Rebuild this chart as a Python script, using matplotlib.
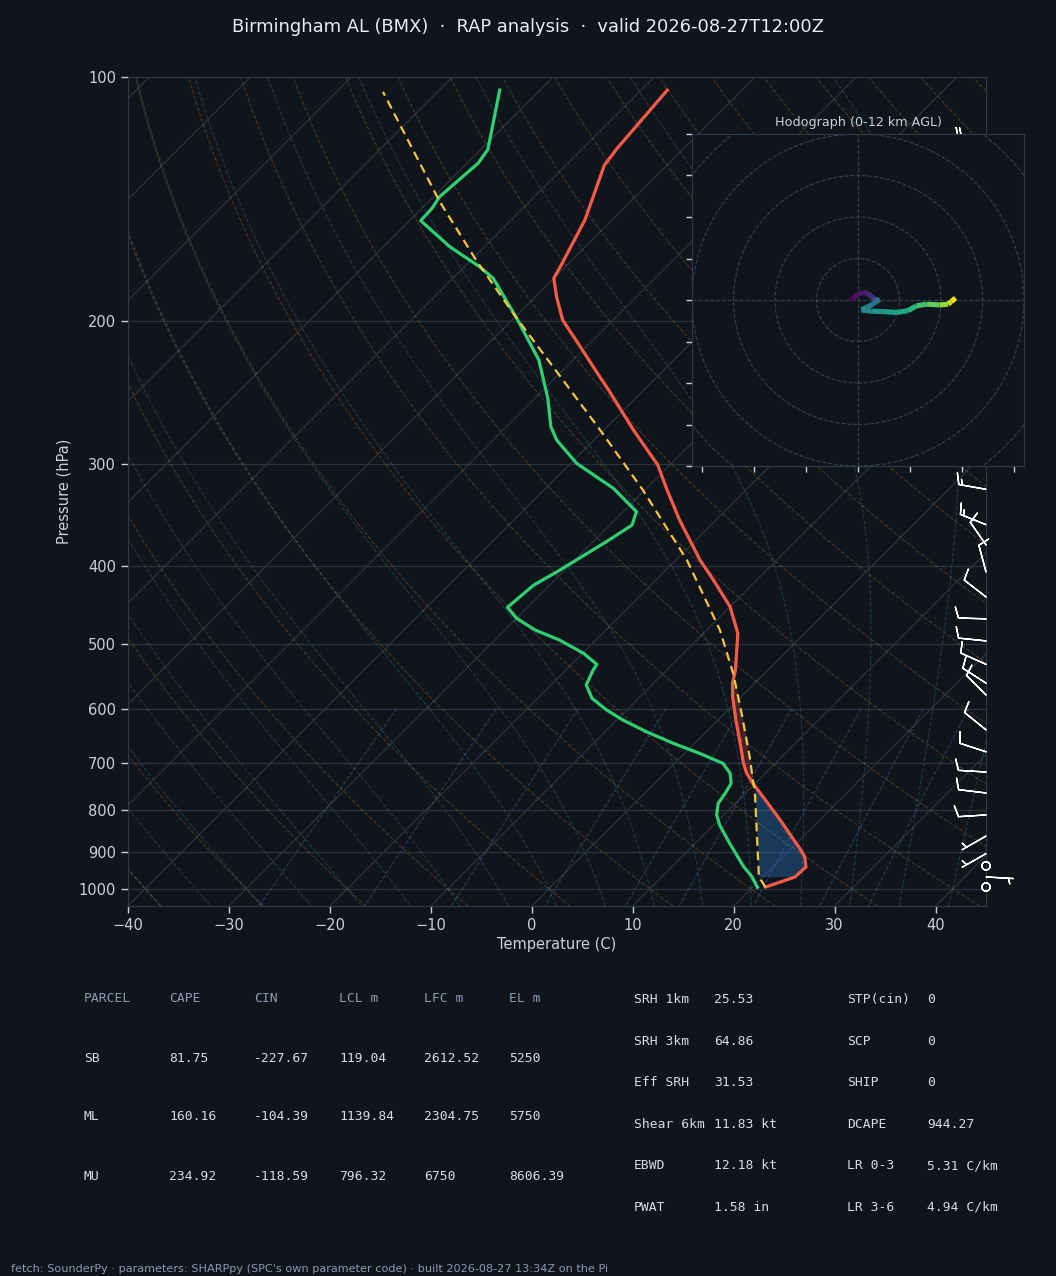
import numpy as np
import matplotlib
matplotlib.use('Agg')
import matplotlib.pyplot as plt
import matplotlib.transforms as mtransforms
from matplotlib.collections import LineCollection
from matplotlib.patches import Circle
from matplotlib.ticker import FixedLocator, NullLocator, FuncFormatter, NullFormatter

BG = '#10151c'
SPINE = '#2e3a48'
TXT = '#c9d1d9'
MUTED = '#8b9bb0'

# --- sounding ---
temp_p = [994.9, 967.1, 940.0, 913.9, 890.9, 865.9, 822.8, 781.9, 740.8, 720.0, 699.9,
          661.4, 619.6, 580.4, 557.8, 537.6, 484.5, 449.3, 416.5, 393.6, 351.3, 322.7,
          300.6, 272.1, 243.0, 229.6, 214.9, 199.2, 186.5, 177.0, 171.3, 150.0, 128.4,
          122.4, 103.8]
temp_t = [21.3, 23.2, 23.3, 22.2, 20.8, 19.1, 16.1, 13.0, 9.7, 8.1, 6.8,
          4.5, 1.8, -0.8, -2.2, -3.2, -6.6, -10.0, -14.3, -17.6, -23.6, -27.8,
          -31.2, -37.1, -43.5, -46.8, -50.6, -55.0, -57.9, -60.0, -60.5, -62.7, -66.2,
          -66.6, -67.4]

dewp_p = [995.7, 966.2, 939.2, 879.1, 834.6, 811.1, 784.8, 762.7, 741.4, 720.6, 700.5,
          681.0, 661.9, 640.5, 619.6, 602.2, 582.6, 561.0, 537.6, 529.0, 512.8, 493.8,
          480.0, 464.4, 450.1, 422.5, 406.8, 373.6, 356.4, 343.1, 321.1, 299.2, 280.0,
          269.6, 248.8, 223.1, 198.3, 177.0, 171.3, 161.9, 150.3, 145.1, 140.4, 127.7,
          122.8, 103.8]
dewp_t = [20.5, 18.9, 17.1, 13.4, 10.6, 9.3, 8.3, 8.0, 7.6, 6.5, 4.8,
          1.5, -2.1, -5.9, -9.4, -12.0, -14.6, -16.5, -17.3, -17.5, -19.9, -23.6,
          -27.0, -30.0, -32.0, -31.6, -30.6, -28.7, -27.8, -28.7, -33.3, -39.4, -43.7,
          -45.6, -48.7, -53.4, -59.7, -66.0, -68.5, -73.4, -78.9, -79.0, -79.4, -78.9,
          -79.3, -84.0]

parcel_p = [995.7, 966.2, 854.5, 755.6, 741.4, 687.6, 607.9, 542.7, 480.0, 393.6,
            322.7, 272.1, 235.1, 198.3, 168.1, 142.4, 115.7, 104.3]
parcel_t = [21.3, 19.6, 15.1, 10.6, 9.8, 6.8, 1.7, -3.1, -8.7, -18.9,
            -30.2, -40.4, -49.3, -59.7, -69.5, -78.9, -89.9, -95.4]

# wind barbs (kt)
barb_p = [120, 322, 356, 377, 407, 437, 465, 495, 529, 558, 577, 637, 678, 718, 762,
          811, 861, 905, 937, 967, 995]
barb_u = [22.0, 14.8, 13.9, 5.7, 2.6, 6.3, 10.0, 9.9, 11.0, 8.4, 7.1, 7.8, 9.5, 10.0, 9.9,
          8.0, 4.0, 3.5, 0.5, -3.5, -1.0]
barb_v = [-2.0, -2.6, -5.6, -8.2, -9.7, -4.9, -0.3, -1.0, -4.9, -5.4, -7.1, -6.3, -3.1,
          -0.6, -1.2, 0.5, 2.3, 2.0, 0.8, 0.2, 0.5]

# hodograph trace (kt) and height (km AGL)
hodo_u = [-2.0, -1.2, 0.0, 1.2, 2.4, 3.5, 4.4, 5.2, 3.6, 2.0, 0.8, 3.2, 6.0, 9.2, 12.0,
          14.1, 16.5, 19.7, 21.7, 22.5, 23.5]
hodo_v = [0.0, 0.4, 1.4, 1.8, 1.6, 0.6, -0.2, 0.2, -1.0, -1.8, -2.4, -2.7, -2.8, -3.0,
          -2.6, -1.4, -1.0, -1.2, -1.0, -0.4, 0.5]
hodo_z = [0.0, 0.3, 0.6, 0.9, 1.2, 1.5, 3.0, 4.2, 4.8, 5.2, 5.6, 6.0, 6.4, 6.9, 7.4,
          8.0, 8.7, 9.6, 10.5, 11.2, 12.0]

# parameter tables
parcel_header = ['PARCEL', 'CAPE', 'CIN', 'LCL m', 'LFC m', 'EL m']
parcel_names = ['SB', 'ML', 'MU']
cape = [81.75, 160.16, 234.92]
cin = [-227.67, -104.39, -118.59]
lcl = [119.04, 1139.84, 796.32]
lfc = [2612.52, 2304.75, 6750]
el = [5250, 5750, 8606.39]

kin_labels = ['SRH 1km', 'SRH 3km', 'Eff SRH', 'Shear 6km', 'EBWD', 'PWAT']
kin_values = [25.53, 64.86, 31.53, 11.83, 12.18, 1.58]
kin_units = ['', '', '', ' kt', ' kt', ' in']
comp_labels = ['STP(cin)', 'SCP', 'SHIP', 'DCAPE', 'LR 0-3', 'LR 3-6']
comp_values = [0, 0, 0, 944.27, 5.31, 4.94]
comp_units = ['', '', '', '', ' C/km', ' C/km']

title = 'Birmingham AL (BMX)  \u00b7  RAP analysis  \u00b7  valid 2026-08-27T12:00Z'
footer = ("fetch: SounderPy \u00b7 parameters: SHARPpy (SPC's own parameter code) "
          "\u00b7 built 2026-08-27 13:34Z on the Pi")

# --- simple thermodynamics for the background lines ---
RD, CPD, LV, EPS = 287.04, 1005.7, 2.501e6, 0.622


def sat_mix(p, tk):
    es = 6.112 * np.exp(17.67 * (tk - 273.15) / (tk - 29.65))
    return EPS * es / (p - es)


def moist_dtdp(p, tk):
    rs = sat_mix(p, tk)
    return (RD * tk + LV * rs) / (CPD + LV**2 * rs * EPS / (RD * tk**2)) / p


def integrate_moist(t0, pgrid):
    tk = np.asarray(t0, float) + 273.15
    out = [tk.copy()]
    for p1, p2 in zip(pgrid[:-1], pgrid[1:]):
        h = p2 - p1
        k1 = moist_dtdp(p1, tk)
        k2 = moist_dtdp(p1 + h / 2, tk + h / 2 * k1)
        k3 = moist_dtdp(p1 + h / 2, tk + h / 2 * k2)
        k4 = moist_dtdp(p2, tk + h * k3)
        tk = tk + h / 6 * (k1 + 2 * k2 + 2 * k3 + k4)
        out.append(tk.copy())
    return np.array(out) - 273.15


fig = plt.figure(figsize=(10.56, 12.76), dpi=100, facecolor=BG)
ax = fig.add_axes([128 / 1056, 1 - 906 / 1276, 858 / 1056, 829 / 1276], facecolor=BG)
ax.set_yscale('log')
ax.set_xlim(-40, 45)
ax.set_ylim(1050, 100)
ax.set_autoscale_on(False)

# skew x by 45 degrees about the bottom edge of the axes (display pixels)
y0 = ax.bbox.y0
skew = mtransforms.Affine2D().translate(0, -y0).skew_deg(45, 0).translate(0, y0)
sk = ax.transData + skew

# horizontal pressure grid
for p in range(100, 1001, 100):
    ax.axhline(p, color='#2a3340', lw=0.9, zorder=1)

# isotherms
for t in range(-130, 50, 10):
    ax.plot([t, t], [1050, 100], color='#2f3640', lw=0.8, transform=sk, zorder=1)

pfull = np.linspace(1050, 100, 120)
# dry adiabats
for t0 in range(-40, 201, 10):
    tt = (t0 + 273.15) * (pfull / 1000.0) ** 0.2857 - 273.15
    ax.plot(tt, pfull, color='#c8823c', alpha=0.3, lw=0.8, ls='--', transform=sk, zorder=1)

# moist adiabats
p_up = np.linspace(1000, 100, 361)
p_dn = np.linspace(1000, 1050, 21)
t0s = np.arange(-40, 46, 5)
m_up = integrate_moist(t0s, p_up)
m_dn = integrate_moist(t0s, p_dn)
pm = np.concatenate([p_dn[::-1], p_up[1:]])
for i in range(len(t0s)):
    tm = np.concatenate([m_dn[::-1, i], m_up[1:, i]])
    ax.plot(tm, pm, color='#4a9aa8', alpha=0.28, lw=0.8, ls='--', transform=sk, zorder=1)

# mixing ratio lines
pmix = np.linspace(600, 1050, 30)
for w in [0.0004, 0.001, 0.002, 0.004, 0.007, 0.01, 0.016, 0.024, 0.032]:
    e = pmix * w / (EPS + w)
    le = np.log(e / 6.112)
    td = 243.5 * le / (17.67 - le)
    ax.plot(td, pmix, color='#5b8fd6', alpha=0.32, lw=0.8, ls='--', transform=sk, zorder=1)

# shading between parcel and environment
pg = np.geomspace(966.2, 104.3, 600)
lp = np.log(pg)
t_env = np.interp(lp, np.log(temp_p[::-1]), temp_t[::-1])
t_par = np.interp(lp, np.log(parcel_p[::-1]), parcel_t[::-1])
ax.fill_betweenx(pg, t_par, t_env, where=(t_env >= t_par) & (pg > 700), interpolate=True,
                 color='#2f7fd0', alpha=0.35, lw=0, transform=sk, zorder=2)
ax.fill_betweenx(pg, t_par, t_env, where=(t_par >= t_env) & (pg > 450), interpolate=True,
                 color='#d94a38', alpha=0.25, lw=0, transform=sk, zorder=2)

# profiles
ax.plot(temp_t, temp_p, color='#f85a48', lw=2.3, transform=sk, zorder=4)
ax.plot(dewp_t, dewp_p, color='#2fcf74', lw=2.3, transform=sk, zorder=4)
ax.plot(parcel_t, parcel_p, color='#f4c542', lw=1.6, ls=(0, (4, 2.5)), transform=sk, zorder=5)

# wind barbs along the right edge
ax.barbs(np.ones(len(barb_p)), barb_p, barb_u, barb_v, transform=ax.get_yaxis_transform(),
         clip_on=False, length=6.3, color='white', lw=1.0, zorder=6)

ax.yaxis.set_major_locator(FixedLocator(list(range(100, 1001, 100))))
ax.yaxis.set_minor_locator(NullLocator())
ax.yaxis.set_major_formatter(FuncFormatter(lambda v, _: f'{v:.0f}'))
ax.yaxis.set_minor_formatter(NullFormatter())
ax.xaxis.set_major_locator(FixedLocator(list(range(-40, 41, 10))))
ax.tick_params(colors=TXT, labelsize=10.5, length=5, width=1)
ax.set_xlabel('Temperature (C)', color=TXT, fontsize=10.5, labelpad=3)
ax.set_ylabel('Pressure (hPa)', color=TXT, fontsize=10.5, labelpad=5)
for s in ax.spines.values():
    s.set_color(SPINE)

# --- hodograph inset ---
hx = fig.add_axes([692 / 1056, 1 - 466 / 1276, 332 / 1056, 332 / 1276], facecolor=BG)
hx.set_xlim(-40, 40)
hx.set_ylim(-40, 40)
for r in range(10, 60, 10):
    hx.add_patch(Circle((0, 0), r, fill=False, ls='--', lw=0.8, color='#34404e'))
hx.axhline(0, color='#34404e', ls='--', lw=0.8)
hx.axvline(0, color='#34404e', ls='--', lw=0.8)
pts = np.column_stack([hodo_u, hodo_v]).reshape(-1, 1, 2)
segs = np.concatenate([pts[:-1], pts[1:]], axis=1)
lc = LineCollection(segs, cmap='viridis', norm=plt.Normalize(0, 12), lw=3.7,
                    capstyle='butt')
lc.set_array(np.array(hodo_z[:-1]) * 0.5 + np.array(hodo_z[1:]) * 0.5)
hx.add_collection(lc)
hx.set_xticks(np.arange(-37.5, 38, 12.5))
hx.set_yticks(np.arange(-40, 41, 10))
hx.tick_params(colors=TXT, length=4, width=1, labelbottom=False, labelleft=False)
for s in hx.spines.values():
    s.set_color(SPINE)
hx.set_title('Hodograph (0-12 km AGL)', color=TXT, fontsize=9.2, pad=6)

# --- titles ---
fig.text(0.5, 1 - 27 / 1276, title, ha='center', va='center', color='#e6edf3', fontsize=12.9)
fig.text(11 / 1056, 1 - 1269 / 1276, footer, ha='left', va='center', color=MUTED, fontsize=8.15)

# --- parcel table ---
mono = 'DejaVu Sans Mono'
col_x = [84 + 85 * i for i in range(6)]
for j, h in enumerate(parcel_header):
    fig.text(col_x[j] / 1056, 1 - 999 / 1276, h, family=mono, fontsize=9.4, color=MUTED,
             ha='left', va='center')
for i, name in enumerate(parcel_names):
    y = 1 - (1058 + 59 * i) / 1276
    row = [name] + [f'{v:g}' for v in (cape[i], cin[i], lcl[i], lfc[i], el[i])]
    for j, txt in enumerate(row):
        fig.text(col_x[j] / 1056, y, txt, family=mono, fontsize=9.4, color='#d7dde3',
                 ha='left', va='center')

# --- kinematic / composite table ---
for i in range(6):
    y = 1 - (999.5 + 41.6 * i) / 1276
    items = [(634, kin_labels[i]), (714, f'{kin_values[i]:g}{kin_units[i]}'),
             (847, comp_labels[i]), (927, f'{comp_values[i]:g}{comp_units[i]}')]
    for x, txt in items:
        fig.text(x / 1056, y, txt, family=mono, fontsize=9.4, color='#d7dde3',
                 ha='left', va='center')

fig.savefig('out.png', dpi=100, facecolor=BG)
